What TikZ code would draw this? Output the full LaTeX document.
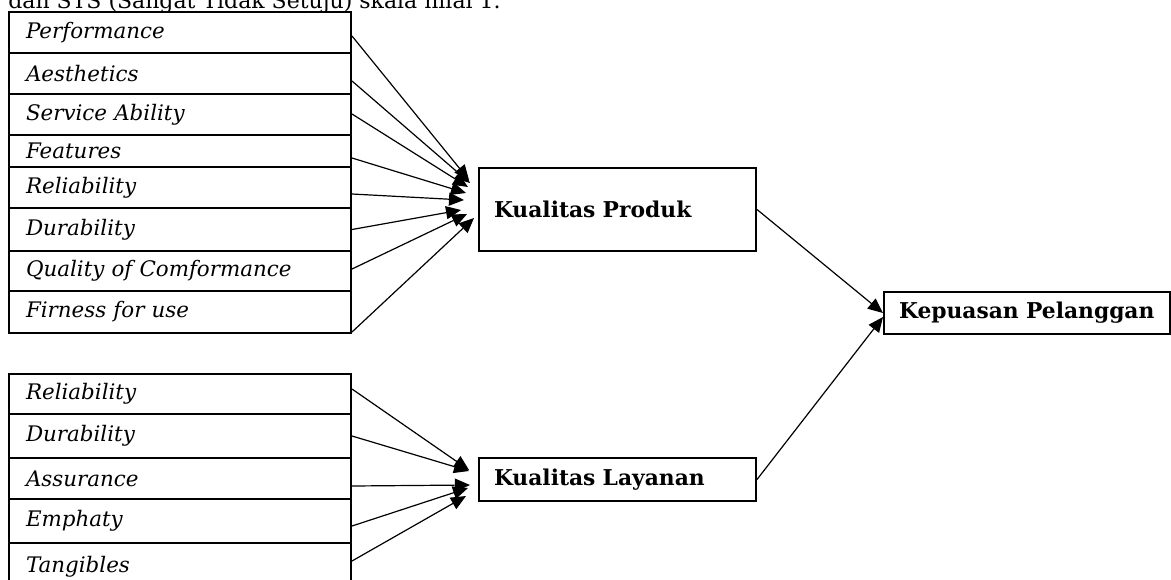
\documentclass[tikz,border=0pt]{standalone}
\usepackage{fontspec}
\setmainfont{DejaVu Serif}
\usetikzlibrary{arrows.meta,positioning}
\tikzset{
  % indicator rows of the two tables
  indicator/.style = {
    draw, line width=1pt, anchor=north west,
    inner xsep=8.5pt, inner ysep=0pt,
    minimum width=171pt, text width=154pt, align=left,
    font=\itshape\fontsize{10.7}{12}\selectfont,
  },
  % latent variable boxes
  varbox/.style = {
    draw, line width=1pt, anchor=north west,
    inner xsep=7.5pt, inner ysep=0pt, align=left,
    font=\bfseries\fontsize{10.9}{12}\selectfont,
  },
  % arrows into the boxes
  link/.style = {
    line width=0.6pt,
    -{Triangle[length=7.5pt,width=6.5pt]},
  },
}
\begin{document}
\begin{tikzpicture}[x=0.5pt,y=-0.5pt]
  \useasboundingbox (0,0) rectangle (1171,579);
  % sentence cut by the top edge
  \node[anchor=base west, inner sep=0pt, font=\fontsize{11}{13}\selectfont] (intro) at (8,8)
    {dan STS (Sangat Tidak Setuju) skala nilai 1.};
  % variables
  \node[varbox, minimum width=138.5pt, text width=123.5pt, minimum height=41.5pt] (kp) at (478,167) {Kualitas Produk};
  \node[varbox, minimum width=138.5pt, text width=123.5pt, minimum height=21.5pt] (kl) at (478,457) {Kualitas Layanan};
  \node[varbox, minimum width=143pt, text width=128pt, minimum height=21pt] (kep) at (883,291) {Kepuasan Pelanggan};
  % product quality indicators
  \foreach \nm/\ya/\yb/\txt/\dy/\tx/\ty in {
      perf/11/52/Performance/3.5/469/180,
      aest/52/93/Aesthetics/7.5/470/183,
      serv/93/134/Service Ability/-0.5/468/187,
      feat/134/166/Features/7/466/193,
      reli/166/207/Reliability/6.5/464/200,
      dura/207/250/Durability/0/461/210,
      qual/250/290/Quality of Comformance/-2/467/214,
      firn/290/332/Firness for use/20/474/218} {
    \node[indicator, minimum height={(\yb-\ya)*0.5pt}] (\nm) at (8,\ya) {\txt};
    \coordinate (\nm-in) at (\tx,\ty);
    \draw[link] ([yshift={-(\dy)*0.5pt}]\nm.east) -- (\nm-in);
  }
  % service quality indicators
  \foreach \nm/\ya/\yb/\txt/\dy/\tx/\ty in {
      srel/373/413/Reliability/-5/469/470,
      sdur/413/457/Durability/0/469/471,
      assu/457/498/Assurance/7.5/470/485,
      emph/498/542/Emphaty/5/468/488,
      tang/542/590/Tangibles/-6/466/496} {
    \node[indicator, minimum height={(\yb-\ya)*0.5pt}] (\nm) at (8,\ya) {\txt};
    \coordinate (\nm-in) at (\tx,\ty);
    \draw[link] ([yshift={-(\dy)*0.5pt}]\nm.east) -- (\nm-in);
  }
  % into customer satisfaction
  \draw[link] (kp.east) -- (kep.west);
  \draw[link] (kl.east) -- ([yshift=-2pt]kep.west);
\end{tikzpicture}
\end{document}
